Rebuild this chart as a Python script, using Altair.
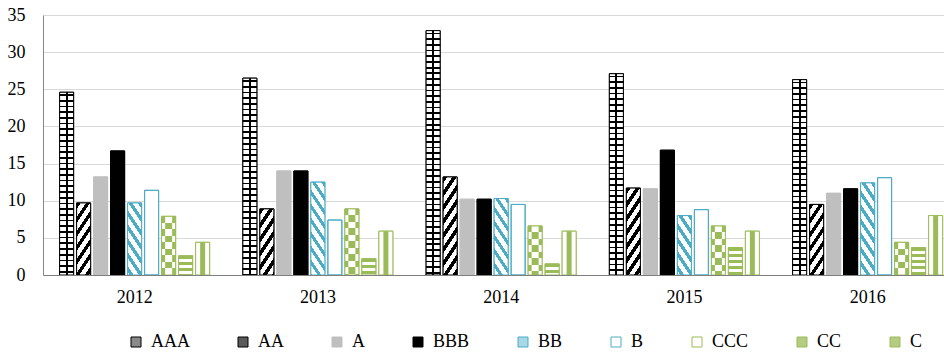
import altair as alt
import pandas as pd

# ---------------- data ----------------
years = ["2012", "2013", "2014", "2015", "2016"]
ratings = ["AAA", "AA", "A", "BBB", "BB", "B", "CCC", "CC", "C"]
aaa = [24.6, 26.5, 32.9, 27.1, 26.3]
aa = [9.7, 8.9, 13.2, 11.7, 9.5]
a_ = [13.2, 14.0, 10.2, 11.6, 11.0]
bbb = [16.7, 14.0, 10.2, 16.8, 11.6]
bb = [9.7, 12.5, 10.3, 8.0, 12.4]
b_ = [11.4, 7.4, 9.5, 8.8, 13.1]
ccc = [7.9, 8.9, 6.6, 6.6, 4.4]
cc = [2.6, 2.2, 1.5, 3.7, 3.7]
c_ = [4.4, 5.9, 5.9, 5.9, 8.0]
y_ticks = [0, 5, 10, 15, 20, 25, 30, 35]

series = {"AAA": aaa, "AA": aa, "A": a_, "BBB": bbb, "BB": bb,
          "B": b_, "CCC": ccc, "CC": cc, "C": c_}
rows = [{"year": y, "rating": r, "value": series[r][i]}
        for i, y in enumerate(years) for r in ratings]
df = pd.DataFrame(rows)

# ---------------- style ----------------
FONT = "Liberation Serif"
PLOT_W, PLOT_H = 901, 260
STEP = 183.25
Y_MAX = 35
PX = PLOT_H / Y_MAX
BAR_W = 14.0
BLACK, GRAY, BLUE, GREEN, WHITE = "#000000", "#bfbfbf", "#4bacc6", "#9bbb59", "#ffffff"
CLEAR = "rgba(255,255,255,0)"

legend_fill = ["#8a8a8a", "#5a5a5a", GRAY, BLACK, "#a8d8e4", WHITE, WHITE, "#b4cc82", "#b4cc82"]
outline = [BLACK, BLACK, GRAY, BLACK, BLUE, BLUE, GREEN, GREEN, GREEN]


def band_stops(length, period, on_frac, on, off, phase=0.0):
    stops = [{"offset": 0.0, "color": off}]
    k = -2
    while True:
        s = phase + k * period
        if s >= length:
            break
        e = s + on_frac * period
        s2, e2 = max(s, 0.0), min(e, length)
        if e2 > s2:
            o1, o2 = round(s2 / length, 5), round(e2 / length, 5)
            stops += [{"offset": o1, "color": off}, {"offset": o1, "color": on},
                      {"offset": o2, "color": on}, {"offset": o2, "color": off}]
        k += 1
    stops.append({"offset": 1.0, "color": off})
    return stops


def rows_grad(h, period, on_frac, on, off, phase=0.0):
    return {"gradient": "linear", "x1": 0, "y1": 0, "x2": 0, "y2": 1,
            "stops": band_stops(h, period, on_frac, on, off, phase)}


def diag_grad(h, slope, period, on_frac, on, off, direction):
    a = slope * BAR_W / h
    B = (a + 1) / (a * a + 1)
    A = a * B
    L = h + slope * BAR_W
    if direction == "/":
        x1, y1, x2, y2 = 0, 0, A, B
    else:
        x1, y1, x2, y2 = 1, 0, 1 - A, B
    return {"gradient": "linear", "x1": round(x1, 5), "y1": y1,
            "x2": round(x2, 5), "y2": round(y2, 5),
            "stops": band_stops(L, period, on_frac, on, off)}


def cond_fill(grads):
    conds = [{"test": f"datum.year == '{y}'", "value": g}
             for y, g in zip(years[:-1], grads[:-1])]
    return {"condition": conds, "value": grads[-1]}


def heights(vals):
    return [v * PX for v in vals]


# ---------------- encodings ----------------
x_enc = alt.X("year:N", title=None,
              scale=alt.Scale(domain=years, range=[0, STEP * 5],
                              paddingInner=0.165, paddingOuter=0.0825),
              axis=alt.Axis(labelPadding=13, ticks=False, domainColor="#7f7f7f",
                            domainWidth=1, labelAngle=0, grid=False))
xo_enc = alt.XOffset("rating:N", sort=ratings,
                     scale=alt.Scale(domain=ratings, paddingInner=0.176, paddingOuter=0.088))
y_enc = alt.Y("value:Q", title=None,
              scale=alt.Scale(domain=[0, Y_MAX], nice=False),
              axis=alt.Axis(values=y_ticks, labelPadding=18, ticks=False,
                            domainColor="#868686", grid=True, gridColor="#d9d9d9",
                            gridWidth=1))

leg = alt.Legend(orient="none", legendX=84, legendY=318, direction="horizontal",
                 columns=9, title=None, symbolType="square", symbolSize=100,
                 symbolStrokeWidth=1, columnPadding=44, labelOffset=6, padding=0)

base = alt.Chart(df).encode(x=x_enc, xOffset=xo_enc, y=y_enc)

layer_base = base.mark_bar(clip=True, strokeWidth=1).encode(
    fill=alt.Fill("rating:N", scale=alt.Scale(domain=ratings, range=legend_fill), legend=leg),
    stroke=alt.Stroke("rating:N", scale=alt.Scale(domain=ratings, range=outline), legend=leg),
)


def pattern(rating, fill, **mark):
    return base.transform_filter(f"datum.rating == '{rating}'").mark_bar(
        clip=True, **mark).encode(fill=fill)


# AAA: grid
aaa_rows = pattern("AAA", cond_fill([rows_grad(h, 5.7, 0.3, BLACK, WHITE, 2.0)
                                     for h in heights(aaa)]))
aaa_mid = pattern("AAA", {"value": {"gradient": "linear", "x1": 0, "y1": 0, "x2": 1, "y2": 0,
                                    "stops": [{"offset": 0, "color": CLEAR},
                                              {"offset": 0.43, "color": CLEAR},
                                              {"offset": 0.43, "color": BLACK},
                                              {"offset": 0.57, "color": BLACK},
                                              {"offset": 0.57, "color": CLEAR},
                                              {"offset": 1, "color": CLEAR}]}})
# AA: black diagonal "/"
aa_diag = pattern("AA", cond_fill([diag_grad(h, 1.5, 14, 0.45, BLACK, WHITE, "/")
                                   for h in heights(aa)]))
# BB: blue diagonal "\"
bb_diag = pattern("BB", cond_fill([diag_grad(h, 1.5, 14, 0.42, BLUE, WHITE, "\\")
                                   for h in heights(bb)]))
# CCC: checkerboard
ccc_full = pattern("CCC", cond_fill([rows_grad(h, 13, 0.5, GREEN, WHITE, 0.0)
                                     for h in heights(ccc)]))
ccc_half = pattern("CCC", cond_fill([rows_grad(h, 13, 0.5, GREEN, WHITE, 6.5)
                                     for h in heights(ccc)]), size=7, xOffset=3.5)
# CC: horizontal stripes
cc_rows = pattern("CC", cond_fill([rows_grad(h, 6, 0.5, GREEN, WHITE, 0.0)
                                   for h in heights(cc)]))
# C: confetti
c_white = pattern("C", {"value": WHITE})
c_left = pattern("C", cond_fill([rows_grad(h, 6, 0.5, GREEN, CLEAR, 1.0)
                                 for h in heights(c_)]), size=5, xOffset=-3)
c_right = pattern("C", cond_fill([rows_grad(h, 6, 0.5, GREEN, CLEAR, 4.0)
                                  for h in heights(c_)]), size=5, xOffset=3)

layer_outline = base.mark_bar(clip=True, strokeWidth=1, fill=CLEAR).encode(
    stroke=alt.Stroke("rating:N", scale=alt.Scale(domain=ratings, range=outline), legend=None),
)

chart = alt.layer(
    layer_base, aaa_rows, aaa_mid, aa_diag, bb_diag, ccc_full, ccc_half,
    cc_rows, c_white, c_left, c_right, layer_outline
).properties(
    width=PLOT_W, height=PLOT_H,
    autosize=alt.AutoSizeParams(type="none"),
    padding={"left": 43, "top": 15, "right": 0, "bottom": 80},
    background="#ffffff",
).configure(
    font=FONT,
).configure_axis(
    labelFont=FONT, labelFontSize=18, labelColor="#000000",
).configure_legend(
    labelFont=FONT, labelFontSize=18, labelColor="#000000",
).configure_view(stroke=None)

chart.save("out.html", embed_options={"renderer": "svg", "actions": False})
